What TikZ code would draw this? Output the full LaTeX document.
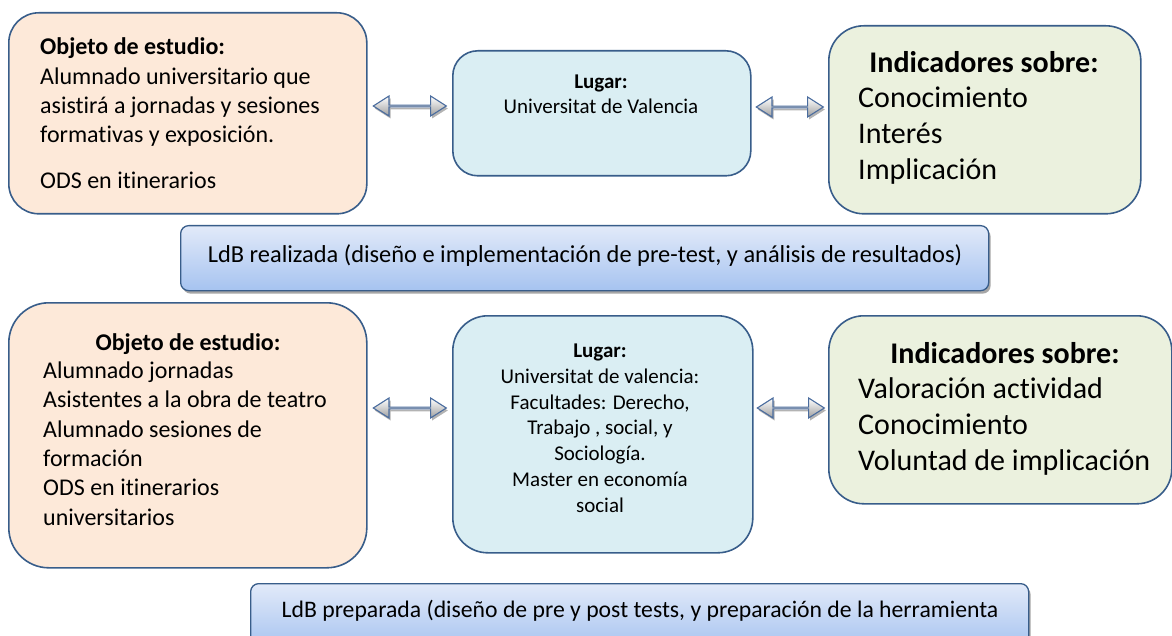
\documentclass[tikz,border=0pt]{standalone}
\usepackage{fontspec}
\setmainfont{Carlito}[Ligatures=NoCommon]
\usetikzlibrary{shapes.arrows,shadows,calc}
\definecolor{bord}{HTML}{385D8A}
\definecolor{peach}{HTML}{FDE9D9}
\definecolor{lblue}{HTML}{DAEEF3}
\definecolor{lgreen}{HTML}{EBF1DE}
\definecolor{bantop}{HTML}{E2EAF9}
\definecolor{banbot}{HTML}{A6C3F0}
\definecolor{arrblue}{HTML}{4A6C9E}
\begin{document}
\begin{tikzpicture}[x=1pt,y=-1pt,
  box/.style={draw=bord, line width=1.6pt, inner sep=0pt, anchor=north west},
  banner/.style={draw=bord, line width=1.3pt, inner sep=0pt, anchor=north west,
    rounded corners=8pt, top color=bantop, bottom color=banbot,
    drop shadow={shadow xshift=2pt, shadow yshift=-3pt, fill=black, opacity=0.35}},
  dblarrow/.style={double arrow, draw=arrblue, line width=1.1pt, inner sep=0pt,
    minimum width=20pt, double arrow head extend=5.5pt, double arrow tip angle=65,
    top color=white, bottom color=gray!75, shading angle=0,
    drop shadow={shadow xshift=1.5pt, shadow yshift=-2.5pt, fill=gray, opacity=0.6}},
  txtl/.style={inner sep=0pt, anchor=base west, text width=#1, align=flush left},
  txtc/.style={inner sep=0pt, anchor=base, text width=#1, align=flush center},
  fA/.style={font=\fontsize{24}{29.3}\selectfont},
  fB/.style={font=\fontsize{30}{36}\selectfont},
  fC/.style={font=\fontsize{21}{25.8}\selectfont},
  fD/.style={font=\fontsize{24.4}{28}\selectfont},
  fE/.style={font=\fontsize{23.7}{28}\selectfont},
]
\clip (0,0) rectangle (1172,636);

% top row
\node[box, fill=peach, rounded corners=30pt, minimum width=358pt, minimum height=201pt] (o1) at (8,12) {};
\node[box, fill=lblue, rounded corners=25pt, minimum width=298pt, minimum height=125pt] (l1) at (452,50) {};
\node[box, fill=lgreen, rounded corners=35pt, minimum width=312pt, minimum height=188pt] (i1) at (828,25) {};

\node[txtl=320pt, fA] (o1t) at (40,55) {\textbf{Objeto de estudio:}\\
Alumnado universitario que\\ asistirá a jornadas y sesiones\\ formativas y exposición.\\[16.5pt]
ODS en itinerarios};
\node[txtc=280pt, fC] (l1t) at (601,89) {\textbf{Lugar:}\\[-1.5pt] Universitat de Valencia};
\node[inner sep=0pt, anchor=base, fB] (i1h) at (984,73) {\textbf{Indicadores sobre:}};
\node[txtl=280pt, fB] (i1t) at (858,108) {Conocimiento\\ Interés\\ Implicación};

\path (o1.east |- 0,106) -- (l1.west |- 0,106) node[midway, dblarrow, minimum height=73pt] (a1) {};
\path (l1.east |- 0,107) -- (i1.west |- 0,107) node[midway, dblarrow, minimum height=67pt] (a2) {};

% banner 1
\node[banner, minimum width=808pt, minimum height=65pt] (b1) at (180,225) {};
\node[inner sep=0pt, anchor=base, fD] (b1t) at (585,262) {LdB realizada (diseño e implementación de pre-test, y análisis de resultados)};

% bottom row
\node[box, fill=peach, rounded corners=40pt, minimum width=358pt, minimum height=265pt] (o2) at (8,302) {};
\node[box, fill=lblue, rounded corners=35pt, minimum width=300pt, minimum height=237pt] (l2) at (452,315) {};
\node[box, fill=lgreen, rounded corners=35pt, minimum width=343pt, minimum height=188pt] (i2) at (828,315) {};

\node[inner sep=0pt, anchor=base, fA] (o2h) at (188,350) {\textbf{Objeto de estudio:}};
\node[txtl=320pt, fA] (o2t) at (43,378.5) {Alumnado jornadas\\ Asistentes a la obra de teatro\\ Alumnado sesiones de\\ formación\\ ODS en itinerarios\\ universitarios};
\node[txtc=290pt, fC] (l2t) at (600,357.5) {\textbf{Lugar:}\\ Universitat de valencia:\\ Facultades: Derecho,\\ Trabajo , social, y\\ Sociología.\\ Master en economía\\ social};
\node[inner sep=0pt, anchor=base, fB] (i2h) at (1005,363) {\textbf{Indicadores sobre:}};
\node[txtl=310pt, fB] (i2t) at (858,398) {Valoración actividad\\ Conocimiento\\ Voluntad de implicación};

\path (o2.east |- 0,408) -- (l2.west |- 0,408) node[midway, dblarrow, minimum height=73pt] (a3) {};
\path (l2.east |- 0,408) -- (i2.west |- 0,408) node[midway, dblarrow, minimum height=67pt] (a4) {};

% banner 2
\node[banner, minimum width=778pt, minimum height=65pt] (b2) at (250,583) {};
\node[inner sep=0pt, anchor=base, fE] (b2t) at (640,617) {LdB preparada (diseño de pre y post tests, y preparación de la herramienta};
\end{tikzpicture}
\end{document}
